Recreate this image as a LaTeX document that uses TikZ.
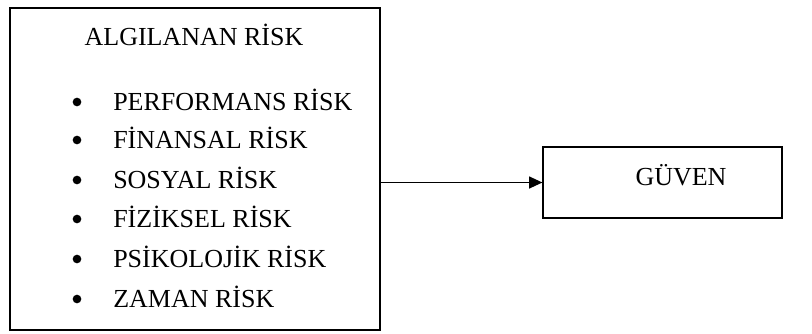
\documentclass[tikz,border=0pt]{standalone}
\usepackage{fontspec}
\setmainfont{Liberation Serif}
\usetikzlibrary{arrows.meta}
\tikzset{
    box/.style={draw, line width=0.9pt, inner sep=0pt},
    itemtext/.style={anchor=base west, inner sep=0pt, font=\fontsize{19.5}{22}\selectfont},
    label/.style={anchor=base, inner sep=0pt, font=\fontsize{19.5}{22}\selectfont},
    dot/.style={circle, fill, inner sep=0pt, minimum size=6.5pt},
}
\begin{document}
\begin{tikzpicture}[x=0.75pt,y=0.75pt]
            \useasboundingbox (0,0) rectangle (812,333);

            \node[box, minimum width=277.5pt, minimum height=241.5pt] (algi) at (195,164) {};
            \node[box, minimum width=179.25pt, minimum height=53.25pt] (guven) at (662.5,150.5) {};

            \node[label] (title) at (194,288) {ALGILANAN RİSK};

            % Risk list
            \node[dot] (b1) at (77,231) {};
            \node[itemtext] (performans) at (113,223) {PERFORMANS RİSK};
            \node[dot] (b2) at (77,193) {};
            \node[itemtext] (finansal) at (113,185) {FİNANSAL RİSK};
            \node[dot] (b3) at (77,153) {};
            \node[itemtext] (sosyal) at (113,145) {SOSYAL RİSK};
            \node[dot] (b4) at (77,114) {};
            \node[itemtext] (fiziksel) at (113,106) {FİZİKSEL RİSK};
            \node[dot] (b5) at (77,74) {};
            \node[itemtext] (psikolojik) at (113,66) {PSİKOLOJİK RİSK};
            \node[dot] (b6) at (77,34) {};
            \node[itemtext] (zaman) at (113,26) {ZAMAN RİSK};

            \node[label] (guvenlabel) at (681,148) {GÜVEN};

            \draw[line width=1.1pt, -{Triangle[length=10pt,width=9pt]}] (algi.east |- guven.west) -- (guven.west);
        \end{tikzpicture}
\end{document}
